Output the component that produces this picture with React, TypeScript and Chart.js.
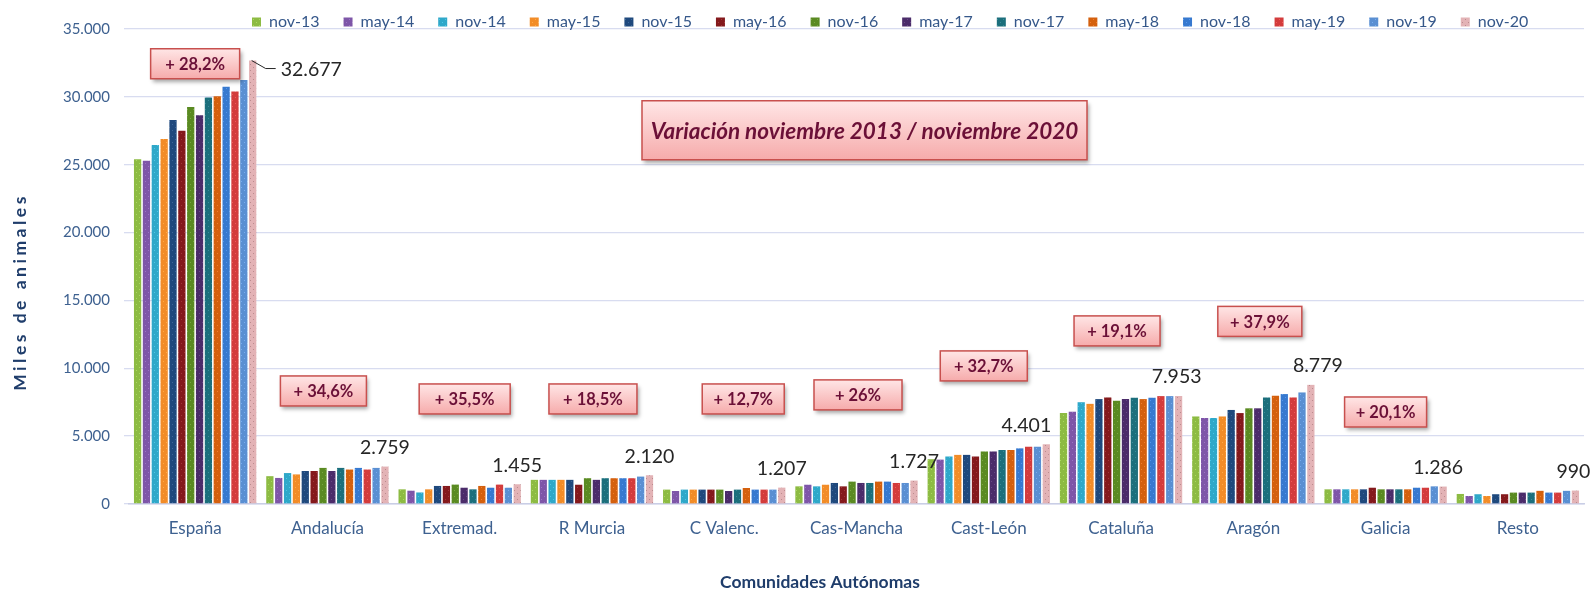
import React, { useEffect, useRef } from 'react';
import { Chart, registerables } from 'chart.js';

Chart.register(...registerables);

// ---------- DATA ----------
const categories = ['España', 'Andalucía', 'Extremad.', 'R Murcia', 'C Valenc.', 'Cas-Mancha', 'Cast-León', 'Cataluña', 'Aragón', 'Galicia', 'Resto'];
const periods = ['nov-13', 'may-14', 'nov-14', 'may-15', 'nov-15', 'may-16', 'nov-16', 'may-17', 'nov-17', 'may-18', 'nov-18', 'may-19', 'nov-19', 'nov-20'];

const nov13 = [25400, 2050, 1080, 1780, 1060, 1300, 3300, 6700, 6450, 1080, 740];
const may14 = [25300, 1920, 980, 1780, 960, 1420, 3270, 6800, 6330, 1080, 590];
const nov14 = [26450, 2280, 850, 1780, 1060, 1300, 3500, 7500, 6330, 1080, 720];
const may15 = [26900, 2180, 1080, 1780, 1060, 1420, 3620, 7380, 6450, 1080, 590];
const nov15 = [28300, 2430, 1330, 1780, 1060, 1550, 3620, 7730, 6930, 1080, 720];
const may16 = [27500, 2430, 1330, 1420, 1060, 1300, 3500, 7850, 6700, 1200, 720];
const nov16 = [29250, 2660, 1430, 1900, 1060, 1650, 3870, 7600, 7050, 1080, 840];
const may17 = [28650, 2430, 1200, 1780, 960, 1550, 3870, 7730, 7050, 1080, 840];
const nov17 = [29950, 2660, 1080, 1900, 1060, 1550, 3980, 7830, 7850, 1080, 840];
const may18 = [30050, 2540, 1330, 1900, 1180, 1650, 3980, 7730, 7970, 1080, 970];
const nov18 = [30750, 2660, 1200, 1900, 1060, 1650, 4100, 7830, 8100, 1200, 840];
const may19 = [30400, 2540, 1430, 1900, 1060, 1550, 4220, 7950, 7850, 1200, 840];
const nov19 = [31250, 2660, 1200, 2020, 1060, 1550, 4220, 7950, 8220, 1300, 970];
const nov20 = [32677, 2759, 1455, 2120, 1207, 1727, 4401, 7953, 8779, 1286, 990];

const seriesValues = [nov13, may14, nov14, may15, nov15, may16, nov16, may17, nov17, may18, nov18, may19, nov19, nov20];

const variations = ['+ 28,2%', '+ 34,6%', '+ 35,5%', '+ 18,5%', '+ 12,7%', '+ 26%', '+ 32,7%', '+ 19,1%', '+ 37,9%', '+ 20,1%'];
const bigNote = 'Variación noviembre 2013 / noviembre 2020';
const yTitle = 'Miles de animales';
const xTitle = 'Comunidades Autónomas';
const yMax = 35000;
const yStep = 5000;

// ---------- STYLE ----------
const seriesColors = ['#8DBB43', '#7E56A8', '#2FA8C9', '#F28C28', '#1F497D', '#84191C', '#5A8A22', '#4B2C6A', '#1C6F7C', '#D4600E', '#3779CF', '#D33C3C', '#5A8FD2', '#E3B3B6'];
const FONT = 'Lato';
const TICK_COLOR = '#3E6190';
const LEGEND_COLOR = '#35578A';
const TITLE_COLOR = '#1F3D6B';
const NOTE_COLOR = '#6B1037';

// placement of the variation boxes: offset from category centre (px) and value level
const boxPlacement = [
  { dx: 0, v: 32440, w: 89 },
  { dx: -4, v: 8330, w: 86 },
  { dx: 5, v: 7740, w: 91 },
  { dx: 1, v: 7740, w: 88 },
  { dx: 19, v: 7740, w: 82 },
  { dx: 1.5, v: 8040, w: 88 },
  { dx: -5, v: 10175, w: 87 },
  { dx: -4, v: 12755, w: 86 },
  { dx: 6.5, v: 13455, w: 84 },
  { dx: 0, v: 6780, w: 82 },
];
const labelDx = [0, 0, 0, 0, 0, 0, -20, -2, 7, -5, -2];

const fmt = (n: number) => String(Math.round(n)).replace(/\B(?=(\d{3})+(?!\d))/g, '.');

function shade(hex: string, amt: number) {
  const n = parseInt(hex.slice(1), 16);
  const r = Math.max(0, Math.min(255, ((n >> 16) & 255) + amt));
  const g = Math.max(0, Math.min(255, ((n >> 8) & 255) + amt));
  const b = Math.max(0, Math.min(255, (n & 255) + amt));
  return `rgb(${r},${g},${b})`;
}

function makePattern(color: string, dark: boolean) {
  const c = document.createElement('canvas');
  c.width = 6;
  c.height = 6;
  const g = c.getContext('2d')!;
  g.fillStyle = color;
  g.fillRect(0, 0, 6, 6);
  g.fillStyle = shade(color, dark ? -40 : 30);
  g.fillRect(1, 1, 1, 1);
  g.fillRect(4, 4, 1, 1);
  const ctx = document.createElement('canvas').getContext('2d')!;
  return ctx.createPattern(c, 'repeat') || color;
}

function drawNoteBox(ctx: CanvasRenderingContext2D, cx: number, cy: number, w: number, h: number, text: string, font: string) {
  const x = cx - w / 2;
  const y = cy - h / 2;
  ctx.save();
  ctx.shadowColor = 'rgba(0,0,0,0.35)';
  ctx.shadowBlur = 4;
  ctx.shadowOffsetX = 2;
  ctx.shadowOffsetY = 3;
  const g = ctx.createLinearGradient(0, y, 0, y + h);
  g.addColorStop(0, '#FFE6E6');
  g.addColorStop(1, '#F6ABAB');
  ctx.fillStyle = g;
  ctx.fillRect(x, y, w, h);
  ctx.restore();
  ctx.save();
  ctx.strokeStyle = '#C8504E';
  ctx.lineWidth = 1.5;
  ctx.strokeRect(x, y, w, h);
  ctx.fillStyle = NOTE_COLOR;
  ctx.font = font;
  ctx.textAlign = 'center';
  ctx.textBaseline = 'middle';
  ctx.fillText(text, cx, cy + 1);
  ctx.restore();
}

const legendShift = {
  id: 'legendShift',
  afterLayout(chart: any) {
    const lg = chart.legend;
    if (!lg || !lg.lineWidths) return;
    const pad = lg.options.labels.padding;
    const start = (lg.left + pad + lg.right - lg.lineWidths[0]) / 2;
    const dx = 252 - start;
    lg.left += dx;
    lg.right += dx;
    const itemH = 16;
    lg.top = 22 - pad - itemH / 2;
    lg.bottom = lg.top + pad + itemH + 20;
    lg.height = lg.bottom - lg.top;
  },
};

const annotations = {
  id: 'annotations',
  afterDatasetsDraw(chart: any) {
    const { ctx, scales, chartArea } = chart;
    const x = scales.x;
    const y = scales.y;

    variations.forEach((t, i) => {
      const p = boxPlacement[i];
      drawNoteBox(ctx, x.getPixelForValue(i) + p.dx, y.getPixelForValue(p.v), p.w, 30, t, `bold 16.5px ${FONT}`);
    });
    drawNoteBox(ctx, x.getPixelForValue(5) + 8, y.getPixelForValue(27540), 445, 59, bigNote, `italic bold 22.5px ${FONT}`);

    const last = seriesValues.length - 1;
    const meta = chart.getDatasetMeta(last);
    ctx.save();
    ctx.font = `19.5px ${FONT}`;
    ctx.fillStyle = '#262626';
    ctx.textBaseline = 'middle';
    meta.data.forEach((bar: any, i: number) => {
      const v = seriesValues[last][i];
      if (i === 0) {
        ctx.save();
        ctx.strokeStyle = '#262626';
        ctx.lineWidth = 1;
        ctx.beginPath();
        ctx.moveTo(bar.x - 1, bar.y);
        ctx.lineTo(bar.x + 13, bar.y + 8);
        ctx.lineTo(bar.x + 23, bar.y + 8);
        ctx.stroke();
        ctx.restore();
        ctx.textAlign = 'left';
        ctx.fillText(fmt(v), bar.x + 28, bar.y + 9);
      } else {
        ctx.textAlign = 'center';
        ctx.fillText(fmt(v), bar.x + labelDx[i], bar.y - 19);
      }
    });
    ctx.restore();

    ctx.save();
    ctx.fillStyle = TITLE_COLOR;
    ctx.font = `bold 17.5px ${FONT}`;
    ctx.textAlign = 'center';
    ctx.textBaseline = 'middle';
    ctx.fillText(xTitle, 820, chartArea.bottom + 78);
    ctx.translate(20, 292);
    ctx.rotate(-Math.PI / 2);
    ctx.font = `bold 17.5px ${FONT}`;
    (ctx as any).letterSpacing = '3.5px';
    ctx.fillText(yTitle, 0, 0);
    ctx.restore();
  },
};

export default function App() {
  const ref = useRef<HTMLCanvasElement>(null);
  useEffect(() => {
    if (!ref.current) return;
    Chart.defaults.font.family = FONT;
    const chart = new Chart(ref.current, {
      type: 'bar',
      data: {
        labels: categories,
        datasets: periods.map((p, i) => ({
          label: p,
          data: seriesValues[i],
          backgroundColor: makePattern(seriesColors[i], i === seriesColors.length - 1) as any,
          borderWidth: 0,
          categoryPercentage: 0.937,
          barPercentage: 0.82,
        })),
      },
      options: {
        responsive: false,
        maintainAspectRatio: false,
        animation: false,
        layout: { padding: { top: 29, right: 7, left: 0, bottom: 0 } },
        plugins: {
          legend: {
            position: 'top',
            maxHeight: 0.01,
            labels: { boxWidth: 9, boxHeight: 9, padding: 24, color: LEGEND_COLOR, font: { size: 16, family: FONT } },
          },
          tooltip: { enabled: false },
        },
        scales: {
          x: {
            grid: { display: false, drawTicks: false },
            border: { display: true, color: '#C9CEE6', width: 1.5 },
            ticks: { color: TICK_COLOR, font: { size: 17, family: FONT }, padding: 14 },
            afterFit: (s: any) => { s.height = 86; },
          },
          y: {
            min: 0,
            max: yMax,
            ticks: { stepSize: yStep, color: TICK_COLOR, font: { size: 15, family: FONT }, padding: 14, callback: (v: any) => fmt(Number(v)) },
            grid: { color: '#D8DCF0', lineWidth: 1.3, tickLength: 5, drawTicks: true },
            border: { display: false },
            afterFit: (s: any) => { s.width = 129; },
          },
        },
      } as any,
      plugins: [legendShift, annotations],
    });
    return () => chart.destroy();
  }, []);
  return (
    <div style={{ position: 'absolute', left: 0, top: 0, width: 1591, height: 590, background: '#fff' }}>
      <canvas ref={ref} width={1591} height={590} style={{ display: 'block', width: 1591, height: 590 }} />
    </div>
  );
}
